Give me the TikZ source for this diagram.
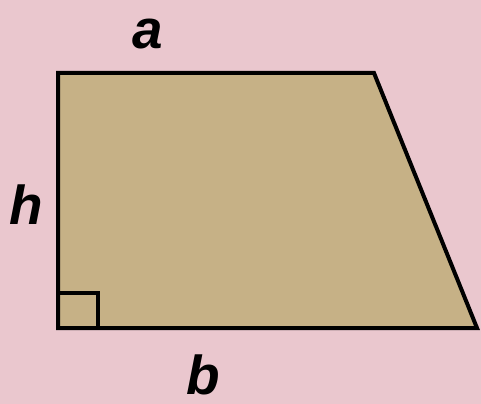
\documentclass[tikz,border=0pt]{standalone}
\usepackage{fontspec}
\setmainfont{Liberation Sans}
\usetikzlibrary{positioning, calc}
\definecolor{bgpink}{RGB}{234, 199, 206}
\definecolor{trapTan}{RGB}{198, 177, 134}
\tikzset{
  edge/.style={line width=2mm, black, line join=miter},
  lbl/.style={font=\fontsize{78}{78}\selectfont\bfseries\itshape, inner sep=0pt},
}
\begin{document}
\begin{tikzpicture}[x=0.5mm, y=-0.5mm]
    \fill[bgpink] (0,0) rectangle (481,404);
    \useasboundingbox (0,0) rectangle (481,404);
    \coordinate (tl) at (58,73);
    \coordinate (tr) at (374,73);
    \coordinate (br) at (477,328);
    \coordinate (bl) at (58,328);
    \filldraw[edge, fill=trapTan] (tl) -- (tr) -- (br) -- (bl) -- cycle;
    \draw[edge] ($(bl)+(0,-35)$) -| ($(bl)+(40,0)$);
    \node[lbl] (a) at (148,34) {a};
    \node[lbl] (h) at (26,205) {h};
    \node[lbl] (b) at (203,375) {b};
  \end{tikzpicture}
\end{document}
